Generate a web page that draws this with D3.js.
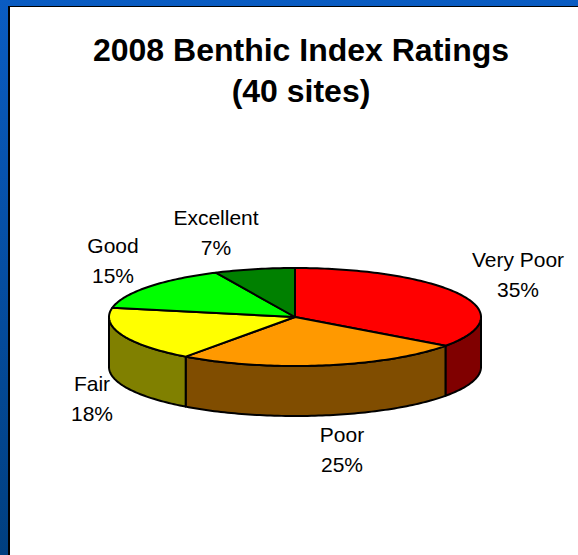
<!DOCTYPE html>
<html>
<head>
<meta charset="utf-8">
<script src="https://cdn.jsdelivr.net/npm/d3@7"></script>
<style>
  html, body { margin: 0; padding: 0; background: #fff; }
  svg { display: block; }
  text { font-family: "Liberation Sans", Arial, sans-serif; fill: #000; }
</style>
</head>
<body>
<div id="chart"></div>
<script>
const titleLines = ["2008 Benthic Index Ratings", "(40 sites)"];
const categories = ["Very Poor", "Poor", "Fair", "Good", "Excellent"];
const percents = [35, 25, 18, 15, 7];
const topColors = ["#ff0000", "#ff9900", "#ffff00", "#00ff00", "#008000"];
const sideColors = ["#800000", "#804d00", "#808000", "#008000", "#004000"];

const width = 578;
const height = 555;

const svg = d3
  .select("#chart")
  .append("svg")
  .attr("width", width)
  .attr("height", height);

// Fondo azul con degradado
const grad = svg
  .append("defs")
  .append("linearGradient")
  .attr("id", "bg")
  .attr("x1", 0)
  .attr("y1", 0)
  .attr("x2", 0)
  .attr("y2", 1);
grad.append("stop").attr("offset", 0).attr("stop-color", "#0a5cc2");
grad.append("stop").attr("offset", 1).attr("stop-color", "#003f80");

svg.append("rect").attr("width", width).attr("height", height).attr("fill", "url(#bg)");
svg
  .append("rect")
  .attr("x", 8)
  .attr("y", 6)
  .attr("width", width)
  .attr("height", height)
  .attr("fill", "#000");
svg
  .append("rect")
  .attr("x", 10)
  .attr("y", 7)
  .attr("width", width)
  .attr("height", height)
  .attr("fill", "#fff");

// Titulo
svg
  .selectAll(".title")
  .data(titleLines)
  .enter()
  .append("text")
  .attr("class", "title")
  .attr("x", 301)
  .attr("y", (d, i) => 61 + i * 41)
  .attr("text-anchor", "middle")
  .attr("font-size", 32)
  .attr("font-weight", "bold")
  .text((d) => d);

// Pastel en proyeccion: elipse de 186 x 49, con 50 de grosor
const depth = 50;
const px = d3.scaleLinear().domain([-1, 1]).range([109, 481]);
const py = d3.scaleLinear().domain([-1, 1]).range([268, 366]);

const pie = d3.pie().sort(null).value((d) => d);
const arcs = pie(percents);

const rimPoints = (a0, a1) => {
  const n = Math.max(2, Math.ceil((a1 - a0) / 0.02));
  return d3.range(n + 1).map((i) => {
    const a = a0 + ((a1 - a0) * i) / n;
    return [px(Math.sin(a)), py(-Math.cos(a))];
  });
};
const line = d3.line();

// Paredes: solo la mitad delantera del pastel
const front0 = Math.PI / 2;
const front1 = (3 * Math.PI) / 2;
svg
  .selectAll(".side")
  .data(arcs.filter((d) => d.endAngle > front0 && d.startAngle < front1))
  .enter()
  .append("path")
  .attr("class", "side")
  .attr("d", (d) => {
    const rim = rimPoints(Math.max(d.startAngle, front0), Math.min(d.endAngle, front1));
    const lower = rim.map((p) => [p[0], p[1] + depth]).reverse();
    return line(rim.concat(lower)) + "Z";
  })
  .attr("fill", (d) => sideColors[d.index])
  .attr("stroke", "#000")
  .attr("stroke-width", 2)
  .attr("stroke-linejoin", "round");

// Tapa
svg
  .selectAll(".slice")
  .data(arcs)
  .enter()
  .append("path")
  .attr("class", "slice")
  .attr("d", (d) => {
    const center = [px(0), py(0)];
    return line([center].concat(rimPoints(d.startAngle, d.endAngle))) + "Z";
  })
  .attr("fill", (d) => topColors[d.index])
  .attr("stroke", "#000")
  .attr("stroke-width", 2)
  .attr("stroke-linejoin", "round");

// Etiquetas
const labelAnchors = [
  [518, 260],
  [342, 435],
  [92, 384],
  [113, 246],
  [216, 218],
];
const labels = svg
  .selectAll(".label")
  .data(categories)
  .enter()
  .append("g")
  .attr("class", "label")
  .attr("transform", (d, i) => `translate(${labelAnchors[i][0]},${labelAnchors[i][1]})`);
labels
  .append("text")
  .attr("text-anchor", "middle")
  .attr("y", 7)
  .attr("font-size", 21)
  .text((d) => d);
labels
  .append("text")
  .attr("text-anchor", "middle")
  .attr("y", 37)
  .attr("font-size", 21)
  .text((d, i) => `${percents[i]}%`);
</script>
</body>
</html>
